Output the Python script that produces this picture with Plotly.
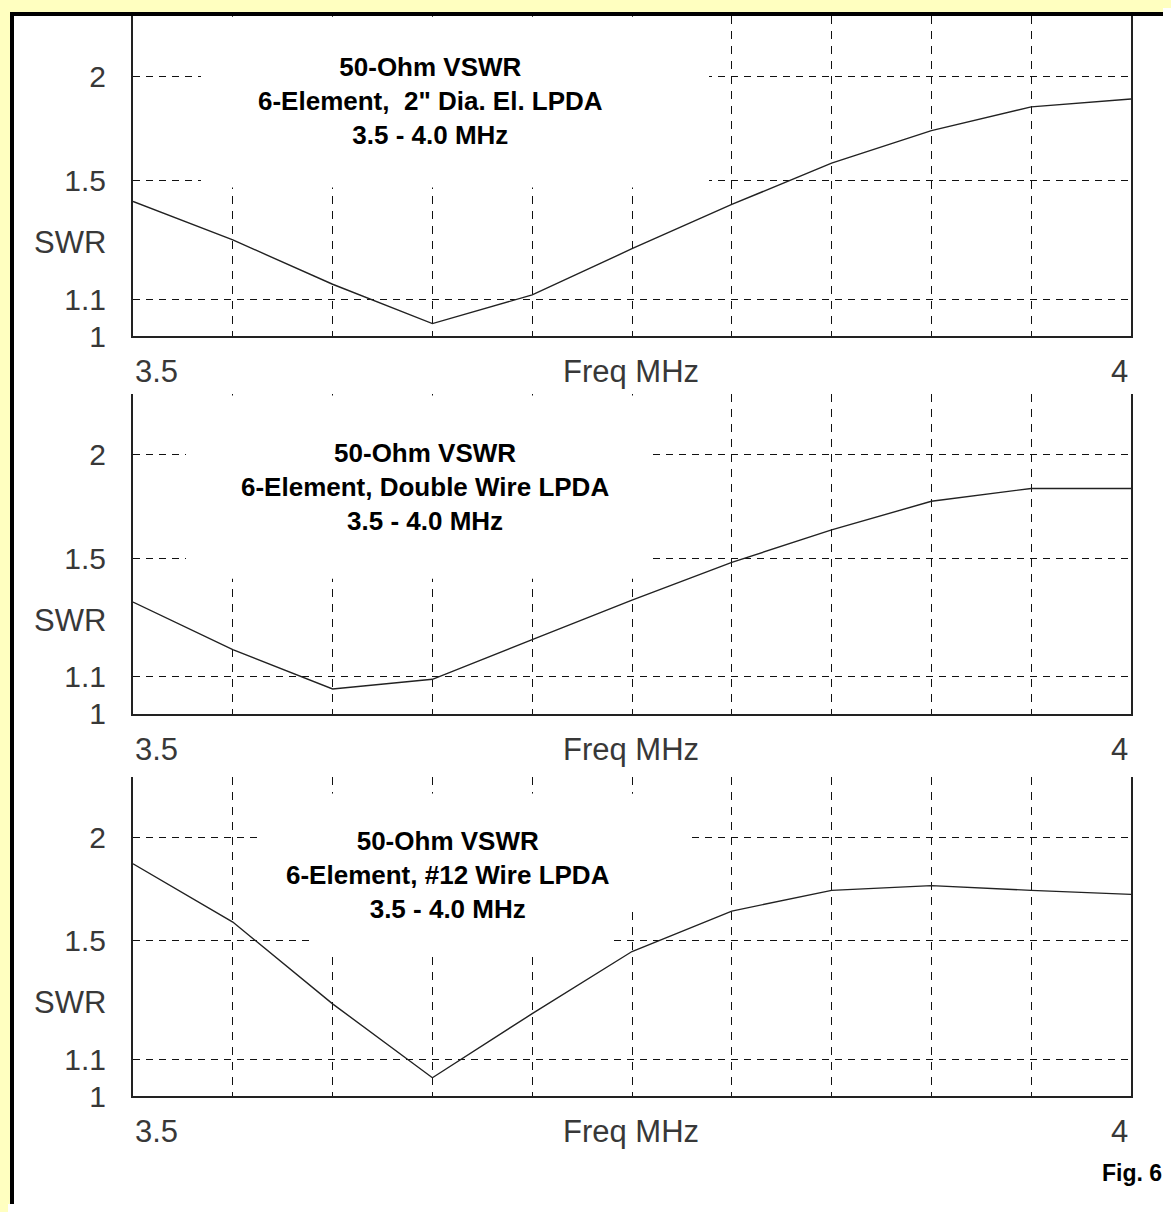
import plotly.graph_objects as go

# ---------------- data ----------------
freq_mhz = [3.50, 3.55, 3.60, 3.65, 3.70, 3.75, 3.80, 3.85, 3.90, 3.95, 4.00]
swr_2in_dia = [1.418, 1.282, 1.143, 1.033, 1.112, 1.253, 1.407, 1.571, 1.717, 1.834, 1.875]
swr_double_wire = [1.336, 1.180, 1.066, 1.093, 1.211, 1.343, 1.484, 1.620, 1.753, 1.817, 1.817]
swr_12_wire = [1.854, 1.578, 1.270, 1.049, 1.238, 1.458, 1.626, 1.721, 1.744, 1.721, 1.702]

swr_ticks = [1.0, 1.1, 1.5, 2.0]
swr_tick_text = ["1", "1.1", "1.5", "2"]
freq_grid = [3.50, 3.55, 3.60, 3.65, 3.70, 3.75, 3.80, 3.85, 3.90, 3.95, 4.00]
freq_range = [3.5, 4.0]
x_label_left = "3.5"
x_label_right = "4"
x_title = "Freq MHz"
y_title = "SWR"

panel_titles = [
    "50-Ohm VSWR<br>6-Element,&nbsp; 2\" Dia. El. LPDA<br>3.5 - 4.0 MHz",
    "50-Ohm VSWR<br>6-Element, Double Wire LPDA<br>3.5 - 4.0 MHz",
    "50-Ohm VSWR<br>6-Element, #12 Wire LPDA<br>3.5 - 4.0 MHz",
]
series = [swr_2in_dia, swr_double_wire, swr_12_wire]
fig_label = "Fig. 6"

# ---------------- layout geometry (page pixels) ----------------
PAGE_W, PAGE_H = 1171, 1212
OFF = 8                       # default html body margin
W, H = PAGE_W - 2 * OFF, PAGE_H - 2 * OFF   # figure fits the page exactly
PLOT_L, PLOT_R = 133, 1131
panels_px = [(16, 341), (400, 724), (788, 1112)]   # (top, bottom)
RHO_TOP = 0.411

title_center = [(430, 102), (425, 494), (448, 887)]
# white boxes behind titles that interrupt the grid: (x0, x1, y0, y1) px
masks = [
    [(201, 709, 17, 190)],
    [(186, 647, 401, 587)],
    [(262, 690, 805, 920), (314, 612, 805, 966)],
]

BG_YELLOW = "#FFFFC0"
INK = "#222222"
TXT = "#383838"
GRID = "#111111"
FONT = "Liberation Sans, Arial, sans-serif"


def rho(s):
    return (s - 1.0) / (s + 1.0)


def xdom(px):
    return (px - PLOT_L) / (PLOT_R - PLOT_L)


def fx(px):   # page px -> figure paper x
    return (px - OFF) / W


def fy(py):   # page px -> figure paper y
    return 1 - (py - OFF) / H


fig = go.Figure()
layout = {}
shapes = []
annotations = []

# outer frame (white inside, black border)
shapes.append(dict(type="rect", xref="paper", yref="paper",
                   x0=fx(12), x1=1.05, y0=fy(14), y1=-0.05,
                   fillcolor="white", line=dict(color="black", width=4),
                   layer="below"))

for i, (ys, (top, bot)) in enumerate(zip(series, panels_px), start=1):
    xa = "x" if i == 1 else f"x{i}"
    ya = "y" if i == 1 else f"y{i}"
    ph = bot - top
    fig.add_trace(go.Scatter(
        x=freq_mhz, y=[rho(v) for v in ys], xaxis=xa, yaxis=ya,
        mode="lines", line=dict(color=INK, width=1.4),
        showlegend=False, hoverinfo="skip"))

    layout[f"xaxis{'' if i == 1 else i}"] = dict(
        domain=[fx(PLOT_L), fx(PLOT_R)], range=freq_range, anchor=ya,
        tickvals=freq_grid, showticklabels=False, ticks="",
        showgrid=True, gridcolor=GRID, gridwidth=1.2, griddash="8px,7px",
        showline=True, linecolor=INK, linewidth=2, zeroline=False,
        fixedrange=True)
    layout[f"yaxis{'' if i == 1 else i}"] = dict(
        domain=[fy(bot), fy(top)], range=[0, RHO_TOP], anchor=xa,
        tickvals=[rho(v) for v in swr_ticks], ticktext=swr_tick_text,
        ticks="outside", ticklen=19, tickcolor="rgba(0,0,0,0)",
        tickfont=dict(family=FONT, size=30, color=TXT),
        showgrid=True, gridcolor=GRID, gridwidth=1.2, griddash="7px,6px",
        showline=True, mirror=True, linecolor=INK, linewidth=2,
        zeroline=False, fixedrange=True)

    xd = f"{xa} domain"
    yd = f"{ya} domain"
    for (x0, x1, y0, y1) in masks[i - 1]:
        shapes.append(dict(type="rect", xref=xd, yref=yd,
                           x0=xdom(x0), x1=xdom(x1),
                           y0=(bot - y1) / ph, y1=(bot - y0) / ph,
                           fillcolor="white", line=dict(width=0),
                           layer="above"))

    cx, cy = title_center[i - 1]
    annotations.append(dict(text=panel_titles[i - 1], xref=xd, yref=yd,
                            x=xdom(cx), y=(bot - cy) / ph,
                            xanchor="center", yanchor="middle", showarrow=False,
                            align="center",
                            font=dict(family=FONT, size=26, color="black", weight="bold")))
    lab_y = -36 / ph
    lab_font = dict(family=FONT, size=31, color=TXT)
    annotations.append(dict(text=x_label_left, xref=xd, yref=yd, x=0, y=lab_y,
                            xanchor="left", yanchor="middle", showarrow=False,
                            font=lab_font))
    annotations.append(dict(text=x_label_right, xref=xd, yref=yd, x=xdom(1130), y=lab_y,
                            xanchor="right", yanchor="middle", showarrow=False,
                            font=lab_font))
    annotations.append(dict(text=x_title, xref=xd, yref=yd, x=xdom(631), y=lab_y,
                            xanchor="center", yanchor="middle", showarrow=False,
                            font=lab_font))
    annotations.append(dict(text=y_title, xref=xd, yref=yd, x=xdom(108), y=95 / ph,
                            xanchor="right", yanchor="middle", showarrow=False,
                            font=lab_font))

annotations.append(dict(text=fig_label, xref="paper", yref="paper",
                        x=fx(1100), y=fy(1190), xanchor="left", yanchor="middle",
                        showarrow=False,
                        font=dict(family=FONT, size=23, color="black", weight="bold")))

fig.update_layout(
    width=W, height=H, margin=dict(l=0, r=0, t=0, b=0, pad=0),
    paper_bgcolor=BG_YELLOW, plot_bgcolor="rgba(0,0,0,0)",
    shapes=shapes, annotations=annotations, showlegend=False,
    **layout)

fig.write_html(
    "out.html", config={"displayModeBar": False},
    post_script=(
        "document.body.style.background="
        "'linear-gradient(#FFFFC0,#FFFFC0) 0 0/100% 8px no-repeat,"
        " linear-gradient(#FFFFC0,#FFFFC0) 0 0/8px 100% no-repeat, #FFFFFF';"
    ))
